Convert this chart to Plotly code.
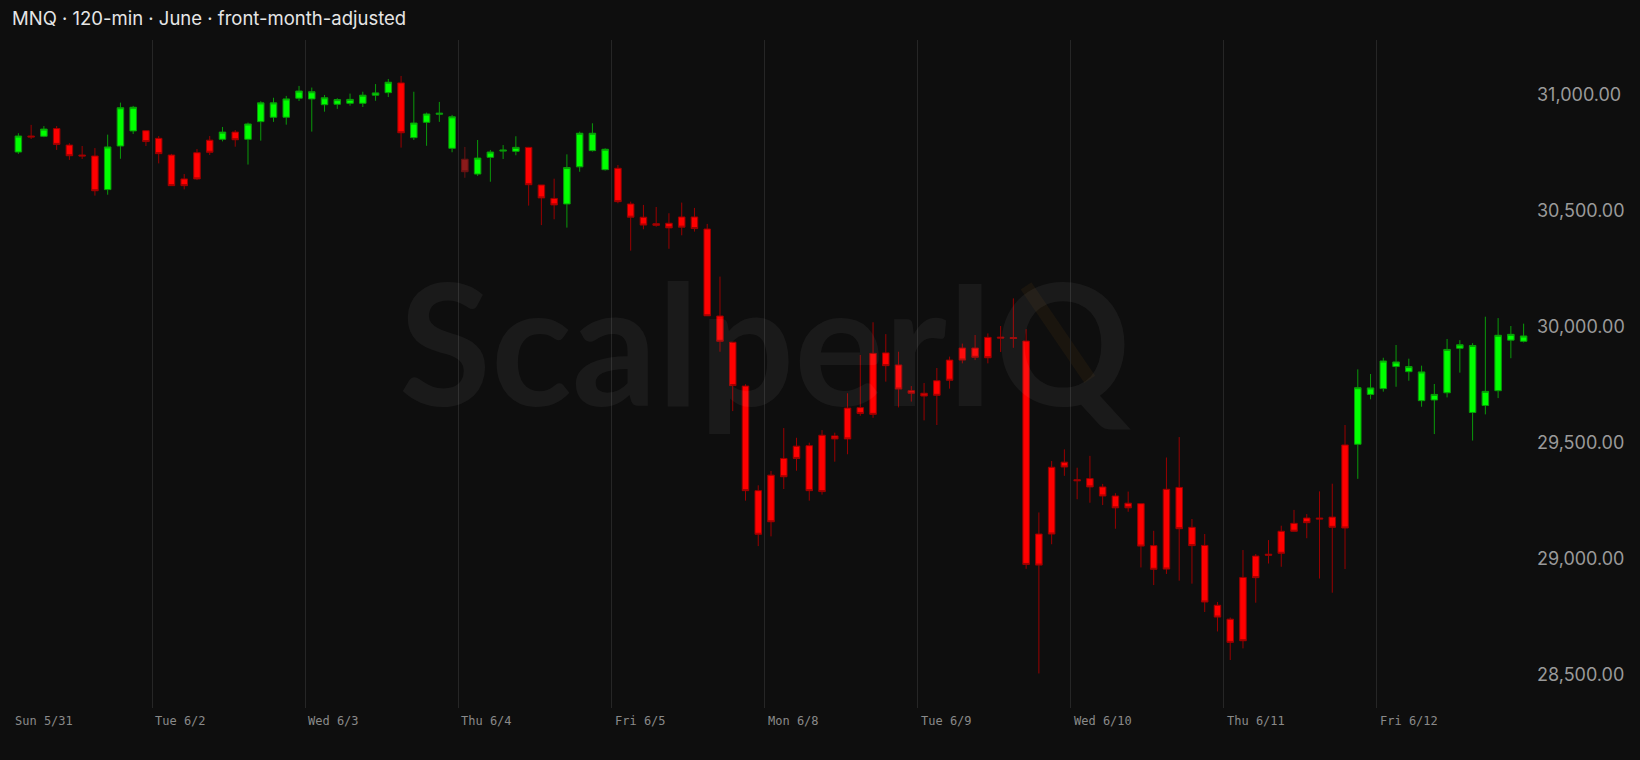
import plotly.graph_objects as go

# ---------------- data ----------------
title_text = "MNQ · 120-min · June · front-month-adjusted"

day_labels = ["Sun 5/31", "Tue 6/2", "Wed 6/3", "Thu 6/4", "Fri 6/5",
              "Mon 6/8", "Tue 6/9", "Wed 6/10", "Thu 6/11", "Fri 6/12"]
day_start_index = [0, 11, 23, 35, 47, 59, 71, 83, 95, 107]

open_ = [30754, 30823, 30822, 30855, 30784, 30741, 30737, 30592, 30780, 30845, 30846,
         30813, 30741, 30638, 30751, 30805, 30809, 30840, 30809, 30885, 30904, 30904, 30986,
         30983, 30958, 30960, 30964, 30964, 30999, 31010, 31052, 30816, 30882, 30917, 30770,
         30723, 30659, 30731, 30758, 30757, 30774, 30612, 30554, 30530, 30690, 30760, 30678,
         30684, 30530, 30473, 30445, 30447, 30474, 30474, 30422, 30047, 29934, 29745, 29294,
         29361, 29433, 29486, 29488, 29533, 29530, 29650, 29652, 29886, 29888, 29836, 29725,
         29714, 29768, 29857, 29909, 29909, 29955, 29956, 29954, 29939, 29107, 29395, 29417,
         29341, 29346, 29310, 29271, 29240, 29238, 29057, 29300, 29308, 29136, 29058, 28800,
         28740, 28920, 29012, 29020, 29119, 29153, 29176, 29176, 29180, 29491, 29494, 29709,
         29734, 29829, 29807, 29682, 29685, 29716, 29908, 29631, 29661, 29725, 29943, 29938]

high = [30835, 30871, 30866, 30866, 30792, 30780, 30771, 30829, 30967, 30953, 30849,
        30823, 30746, 30659, 30767, 30823, 30862, 30849, 30881, 30973, 30988, 30996, 31039,
        31032, 31000, 30986, 31006, 31014, 31047, 31069, 31082, 31014, 30924, 30970, 30914,
        30776, 30806, 30763, 30784, 30822, 30776, 30612, 30639, 30744, 30842, 30878, 30770,
        30698, 30540, 30526, 30517, 30490, 30536, 30513, 30444, 30217, 29934, 29753, 29317,
        29379, 29564, 29522, 29501, 29555, 29544, 29714, 29879, 30020, 29969, 29893, 29745,
        29758, 29823, 29872, 29928, 29965, 29972, 30004, 30123, 29990, 29200, 29422, 29472,
        29393, 29444, 29323, 29283, 29290, 29238, 29121, 29437, 29525, 29172, 29107, 28814,
        28747, 29038, 29021, 29081, 29143, 29211, 29193, 29291, 29324, 29577, 29817, 29797,
        29867, 29922, 29863, 29833, 29754, 29948, 29943, 29930, 30044, 30038, 30004, 30014]

low = [30746, 30810, 30818, 30763, 30720, 30724, 30566, 30570, 30725, 30832, 30780,
       30705, 30608, 30593, 30633, 30741, 30800, 30777, 30700, 30803, 30884, 30872, 30974,
       30842, 30928, 30940, 30954, 30948, 30975, 30991, 30773, 30806, 30781, 30884, 30753,
       30643, 30651, 30626, 30724, 30740, 30523, 30439, 30464, 30428, 30669, 30756, 30674,
       30533, 30329, 30421, 30432, 30337, 30395, 30411, 30048, 29893, 29637, 29251, 29055,
       29097, 29301, 29380, 29251, 29277, 29419, 29451, 29617, 29608, 29764, 29653, 29678,
       29597, 29577, 29734, 29843, 29857, 29843, 29892, 29910, 28957, 28506, 29063, 29358,
       29257, 29242, 29232, 29130, 29203, 28963, 28887, 28935, 28906, 28893, 28771, 28687,
       28564, 28614, 28811, 28980, 28966, 29119, 29089, 28915, 28854, 28956, 29345, 29688,
       29721, 29742, 29768, 29656, 29538, 29696, 29803, 29510, 29623, 29693, 29865, 29933]

close = [30823, 30819, 30853, 30787, 30738, 30737, 30587, 30776, 30945, 30947, 30799,
         30747, 30609, 30609, 30638, 30753, 30840, 30807, 30875, 30966, 30966, 30983, 31017,
         31014, 30988, 30980, 30981, 30999, 31009, 31055, 30837, 30879, 30918, 30921, 30906,
         30669, 30728, 30754, 30762, 30774, 30613, 30556, 30526, 30687, 30835, 30835, 30766,
         30540, 30473, 30439, 30438, 30427, 30430, 30424, 30048, 29938, 29747, 29294, 29106,
         29160, 29354, 29433, 29294, 29290, 29517, 29517, 29627, 29623, 29833, 29732, 29714,
         29702, 29705, 29770, 29857, 29869, 29867, 29952, 29950, 28976, 28973, 29107, 29396,
         29337, 29310, 29271, 29220, 29220, 29055, 28955, 28956, 29130, 29057, 28814, 28749,
         28640, 28647, 28919, 29016, 29024, 29119, 29156, 29172, 29136, 29133, 29738, 29737,
         29853, 29849, 29829, 29806, 29709, 29903, 29923, 29920, 29722, 29964, 29968, 29961]

# bar regime per candle: G = bullish regime, R = bearish regime, D = dimmed bar
regime = ("GRGRRRRGGGR" "RRRRRGRGGGGG" "GGGGGGGRGGGG" "DGGGGRRRGGGG" "RRRRRRRRRRRR"
          "RRRRRRRRRRRR" "RRRRRRRRRRRR" "RRRRRRRRRRRR" "RRRRRRRRRRGG" "GGGGGGGGGGGG")

price_ticks = [28500, 29000, 29500, 30000, 30500, 31000]

# ---------------- styling ----------------
BG = "#0e0e0e"
styles = {
    "G": dict(fill="#00ff00", line="#0a9a0a"),
    "R": dict(fill="#ff0000", line="#9a0000"),
    "D": dict(fill="#8c1b1b", line="#681313"),
}

idx = list(range(len(open_)))

fig = go.Figure()
for key, st in styles.items():
    sel = [i for i in idx if regime[i] == key]
    fig.add_trace(go.Candlestick(
        x=sel,
        open=[open_[i] for i in sel],
        high=[high[i] for i in sel],
        low=[low[i] for i in sel],
        close=[close[i] for i in sel],
        increasing=dict(fillcolor=st["fill"], line=dict(color=st["line"], width=1)),
        decreasing=dict(fillcolor=st["fill"], line=dict(color=st["line"], width=1)),
        showlegend=False,
        hoverinfo="x+y",
    ))

boundaries = [s - 0.5 for s in day_start_index[1:]]

annotations = []
for lab, s in zip(day_labels, day_start_index):
    annotations.append(dict(
        x=s - 0.5, y=0, xref="x", yref="paper", text=lab, showarrow=False,
        xanchor="left", yanchor="top", xshift=1, yshift=-4,
        font=dict(family="DejaVu Sans Mono", size=12, color="#8a8a8a"),
    ))

# watermark
annotations.append(dict(
    x=0.496, y=0.549, xref="paper", yref="paper", text="ScalperIQ", showarrow=False,
    xanchor="center", yanchor="middle",
    font=dict(family="Lato", size=168, weight=700, color="rgba(255,255,255,0.05)"),
))

fig.update_layout(
    width=1640, height=760,
    margin=dict(l=12, r=110, t=40, b=52),
    paper_bgcolor=BG, plot_bgcolor=BG,
    boxgap=0.27,
    title=dict(text=title_text, x=12 / 1640, xanchor="left", xref="container",
               y=1 - 19 / 760, yanchor="middle", yref="container",
               font=dict(family="Inter", size=18.5, color="#e6e6e6")),
    xaxis=dict(
        range=[-0.5, len(open_) - 0.5],
        rangeslider=dict(visible=False),
        tickvals=boundaries, showticklabels=False, ticks="",
        showgrid=True, gridcolor="#262626", gridwidth=1,
        zeroline=False, showline=False, fixedrange=True,
    ),
    yaxis=dict(
        side="right", range=[28357, 31237],
        tickvals=price_ticks, tickformat=",.2f", ticks="",
        ticklabelstandoff=6,
        showgrid=False, zeroline=False, showline=False,
        tickfont=dict(family="Inter", size=18, color="#9a9a9a"),
    ),
    annotations=annotations,
    shapes=[dict(type="line", xref="paper", yref="paper",
                 x0=0.668, y0=0.632, x1=0.710, y1=0.492,
                 line=dict(color="rgba(255,150,20,0.05)", width=13), layer="below")],
    hovermode="x",
)

fig.write_html(
    "out.html",
    config={"displayModeBar": False},
    post_script="document.body.style.margin='0';document.body.style.overflow='hidden';"
                "document.body.style.background='" + BG + "';",
)
